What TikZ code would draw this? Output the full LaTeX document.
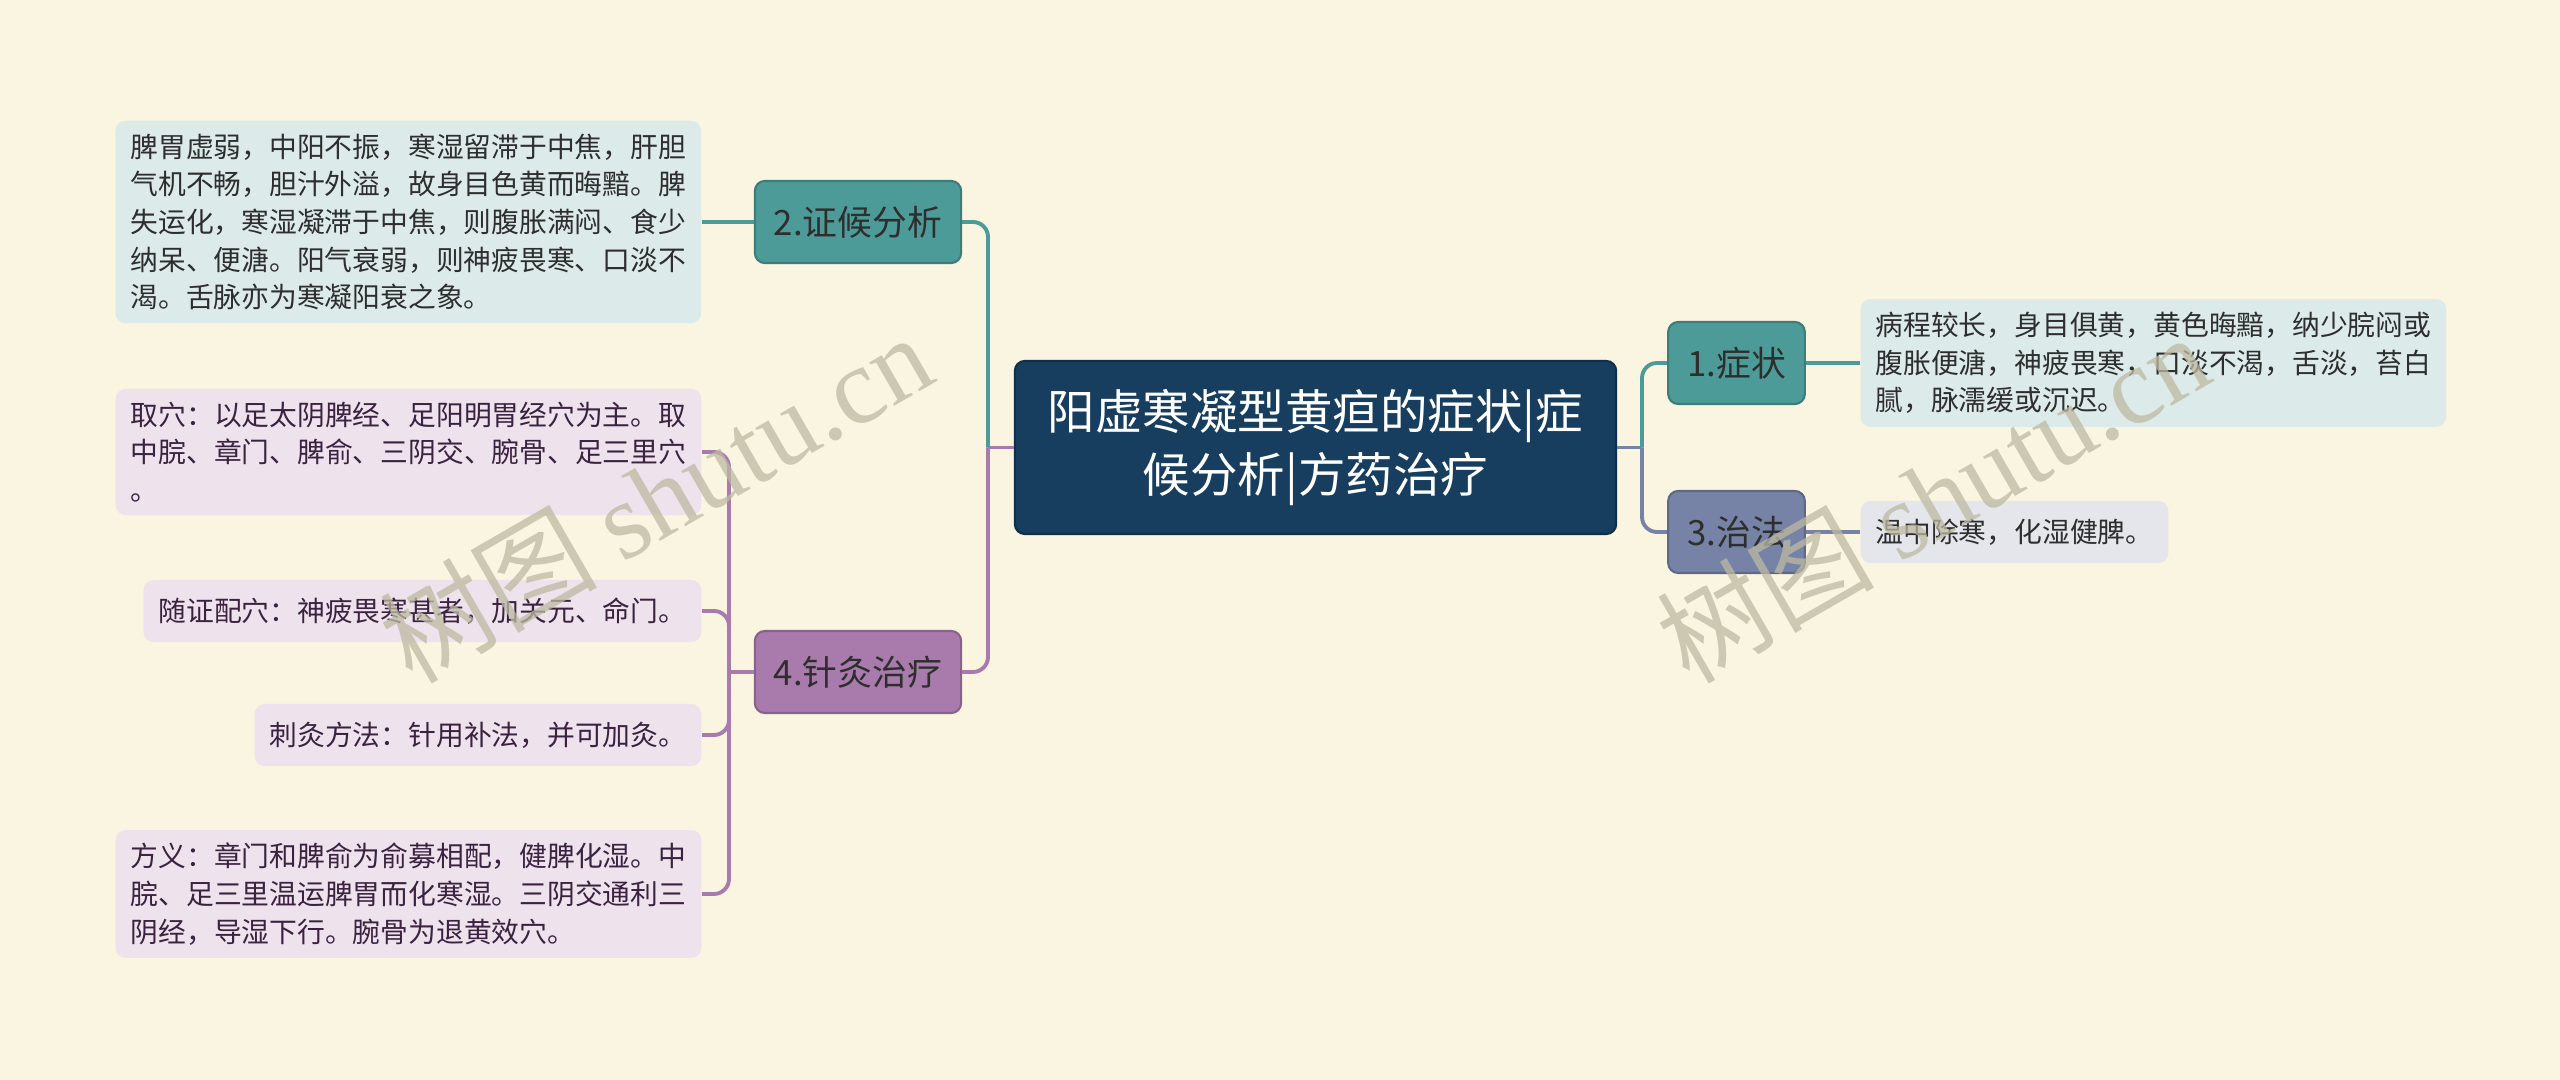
\documentclass[tikz,border=0pt]{standalone}
\usepackage{fontspec}
\setmainfont{Noto Sans CJK SC}
\newfontfamily\markfont{Liberation Serif}
\usepackage{xcolor}
\definecolor{paper}{HTML}{FAF5E1}
\definecolor{rootfill}{HTML}{173E5E}
\definecolor{rootline}{HTML}{10304A}
\definecolor{tealc}{HTML}{4D9B98}
\definecolor{purplec}{HTML}{A97BAC}
\definecolor{slatec}{HTML}{7683A6}
\definecolor{tealleaf}{HTML}{DCEBE9}
\definecolor{purpleleaf}{HTML}{EEE3EC}
\definecolor{slateleaf}{HTML}{E4E6EC}
\definecolor{ink}{HTML}{2E2E2E}
\definecolor{plum}{HTML}{3A2240}
\definecolor{wm}{HTML}{BDB9A2}
\usetikzlibrary{positioning}

\begin{document}
\begin{tikzpicture}[x=0.01cm, y=-0.01cm,
                topic/.style={rectangle, rounded corners=0.1cm, minimum width=6.01cm, minimum height=1.73cm, text centered, fill=rootfill, draw=rootline, line width=0.6pt, text=white, align=center, font=\fontsize{13.5}{17.8}\selectfont},
                branch/.style={rectangle, rounded corners=0.1cm, minimum height=0.82cm, inner xsep=0.19cm, draw, line width=0.6pt, text=ink, font=\fontsize{9.9}{12}\selectfont},
                leaf/.style={rectangle, rounded corners=0.1cm, minimum height=0.62cm, inner xsep=0.15cm, inner ysep=0.13cm, align=left, text=ink, font=\fontsize{7.9}{10.7}\selectfont},
                link/.style={draw, line width=1.1pt, rounded corners=0.15cm},
                wmark/.style={text=wm, opacity=0.75, rotate=30, font=\fontsize{31}{31}\selectfont}
            ]
            \fill[paper] (0,0) rectangle (2560,1080);
            \useasboundingbox (0,0) rectangle (2560,1080);

            \node (root) at (1315.5,447.5) [topic] {阳虚寒凝型黄疸的症状|症\\候分析|方药治疗};

            % left side
            \node (analysis) at (858,222) [branch, fill=tealc, draw=tealc!80!black] {2.证候分析};
            \node (acu) at (858,672) [branch, fill=purplec, draw=purplec!80!black] {4.针灸治疗};
            \node (analysisdesc) [leaf, fill=tealleaf, left=0.52cm of analysis] {脾胃虚弱，中阳不振，寒湿留滞于中焦，肝胆\\气机不畅，胆汁外溢，故身目色黄而晦黯。脾\\失运化，寒湿凝滞于中焦，则腹胀满闷、食少\\纳呆、便溏。阳气衰弱，则神疲畏寒、口淡不\\渴。舌脉亦为寒凝阳衰之象。};
            \node (points) at (702,452) [leaf, fill=purpleleaf, text=plum, anchor=east] {取穴：以足太阴脾经、足阳明胃经穴为主。取\\中脘、章门、脾俞、三阴交、腕骨、足三里穴\\。};
            \node (extra) at (702,611) [leaf, fill=purpleleaf, text=plum, anchor=east] {随证配穴：神疲畏寒甚者，加关元、命门。};
            \node (technique) at (702,735) [leaf, fill=purpleleaf, text=plum, anchor=east] {刺灸方法：针用补法，并可加灸。};
            \node (meaning) at (702,894) [leaf, fill=purpleleaf, text=plum, anchor=east] {方义：章门和脾俞为俞募相配，健脾化湿。中\\脘、足三里温运脾胃而化寒湿。三阴交通利三\\阴经，导湿下行。腕骨为退黄效穴。};

            % right side
            \node (symptom) at (1736.5,363) [branch, fill=tealc, draw=tealc!80!black] {1.症状};
            \node (method) at (1736.5,532) [branch, fill=slatec, draw=slatec!80!black] {3.治法};
            \node (symptomdesc) [leaf, fill=tealleaf, right=0.54cm of symptom] {病程较长，身目俱黄，黄色晦黯，纳少脘闷或\\腹胀便溏，神疲畏寒，口淡不渴，舌淡，苔白\\腻，脉濡缓或沉迟。};
            \node (methoddesc) [leaf, fill=slateleaf, right=0.54cm of method] {温中除寒，化湿健脾。};

            \coordinate (jl) at (988,447.5);
            \coordinate (jr) at (1642,447.5);
            \coordinate (jb) at (729,672);

            \draw [link, purplec] (root.west) -- (jl);
            \draw [link, tealc] (jl) |- (analysis.east);
            \draw [link, purplec] (jl) |- (acu.east);
            \draw [link, slatec] (root.east) -- (jr);
            \draw [link, tealc] (jr) |- (symptom.west);
            \draw [link, slatec] (jr) |- (method.west);

            \draw [link, tealc] (analysis.west) -- (analysisdesc.east);
            \draw [link, tealc] (symptom.east) -- (symptomdesc.west);
            \draw [link, slatec] (method.east) -- (methoddesc.west);
            \draw [link, purplec] (acu.west) -- (jb);
            \foreach \leafname in {points, extra, technique, meaning}
                \draw [link, purplec] (jb) |- (\leafname.east);

            % watermarks
            \node (markleft) at (655,497) [wmark] {树图 {\markfont shutu.cn}};
            \node (markright) at (1932,497) [wmark] {树图 {\markfont shutu.cn}};
        \end{tikzpicture}
\end{document}
